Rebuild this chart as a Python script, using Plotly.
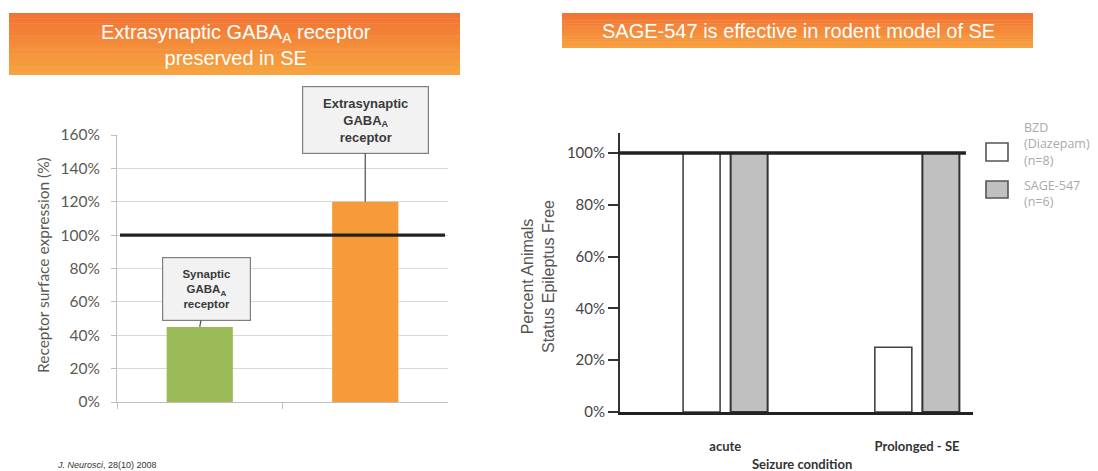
import plotly.graph_objects as go

W, H = 1098, 471
OFF = 8  # page body margin offset of the figure within the window

# ---------------- data ----------------
left_categories = ["Synaptic GABA_A receptor", "Extrasynaptic GABA_A receptor"]
left_values = [45, 120]
left_colors = ["#9BBB59", "#F79A3A"]
left_tick_values = [0, 20, 40, 60, 80, 100, 120, 140, 160]
left_tick_labels = ["0%", "20%", "40%", "60%", "80%", "100%", "120%", "140%", "160%"]
left_box_texts = ["Synaptic<br>GABA<sub>A</sub><br>receptor",
                  "Extrasynaptic<br>GABA<sub>A</sub><br>receptor"]

right_categories = ["acute", "Prolonged - SE"]
bzd_values = [100, 25]
sage_values = [100, 100]
right_tick_values = [0, 20, 40, 60, 80, 100]
right_tick_labels = ["0%", "20%", "40%", "60%", "80%", "100%"]

reference_level = 100


def px(x):
    return (x - OFF) / W


def py(y):
    return 1 - (y - OFF) / H


fig = go.Figure()

# ---------------- left chart ----------------
fig.add_trace(go.Bar(
    x=left_categories, y=left_values, width=0.4,
    marker=dict(color=left_colors, line=dict(width=0)),
    xaxis="x", yaxis="y", showlegend=False, hoverinfo="skip"))

# ---------------- right chart ----------------
fig.add_trace(go.Bar(
    x=right_categories, y=bzd_values, width=0.193, offset=-0.22,
    marker=dict(color="white", line=dict(color="#444444", width=1.6)),
    xaxis="x2", yaxis="y2", showlegend=False, name="BZD (Diazepam) (n=8)"))
fig.add_trace(go.Bar(
    x=right_categories, y=sage_values, width=0.193, offset=0.028,
    marker=dict(color="#C0C0C0", line=dict(color="#333333", width=2)),
    xaxis="x2", yaxis="y2", showlegend=False, name="SAGE-547 (n=6)"))

shapes = []
annotations = []


def gradient_bar(x0, x1, y0, y1, c_top, c_bot, n=24):
    for i in range(n):
        t = i / (n - 1)
        col = "rgb({},{},{})".format(*[int(round(a + (b - a) * t)) for a, b in zip(c_top, c_bot)])
        ya = y0 + (y1 - y0) * i / n
        yb = min(y1, y0 + (y1 - y0) * (i + 1) / n + 0.5)
        shapes.append(dict(type="rect", xref="paper", yref="paper",
                           x0=px(x0), x1=px(x1), y0=py(ya), y1=py(yb),
                           fillcolor=col, line=dict(width=0), layer="below"))


def note(text, x, y, size, color, family="Liberation Sans, Arial, sans-serif",
         xanchor="center", yanchor="middle", align="center", angle=0):
    annotations.append(dict(
        text=text, x=px(x), y=py(y), xref="paper", yref="paper", showarrow=False,
        xanchor=xanchor, yanchor=yanchor, align=align, textangle=angle,
        font=dict(family=family, size=size, color=color)))


# title banners
gradient_bar(9, 460, 13, 75, (241, 116, 52), (247, 163, 64))
gradient_bar(562, 1033, 13, 48, (241, 116, 52), (247, 160, 64))

note("Extrasynaptic GABA<sub>A</sub> receptor<br>preserved in SE", 236, 45, 20, "white")
note("SAGE-547 is effective in rodent model of SE", 798, 31, 20, "white")

# reference lines at 100 %
shapes.append(dict(type="line", xref="x domain", yref="y",
                   x0=0.009, x1=0.991, y0=reference_level, y1=reference_level,
                   line=dict(color="#222222", width=3.2)))
shapes.append(dict(type="line", xref="x2 domain", yref="y2",
                   x0=-0.005, x1=0.980, y0=reference_level, y1=reference_level,
                   line=dict(color="#222222", width=3.6)))

# callout boxes on left bars
box_ax = [7, 0]
box_ay = [-38, -82]
box_w = [83, 121]
box_h = [58, 62]
box_fs = [11.5, 13]
for cat, val, txt, ax, ay, bw, bh, fs in zip(left_categories, left_values, left_box_texts,
                                              box_ax, box_ay, box_w, box_h, box_fs):
    annotations.append(dict(
        x=cat, y=val, xref="x", yref="y", text="<b>" + txt + "</b>",
        showarrow=True, arrowhead=0, arrowwidth=1.3, arrowcolor="#595959",
        ax=ax, ay=ay, width=bw, height=bh, borderpad=2,
        bgcolor="#F2F2F2", bordercolor="#7F7F7F", borderwidth=1.2,
        font=dict(family="Liberation Sans, Arial, sans-serif", size=fs, color="#3A3A3A")))

# axis titles
note("Receptor surface expression (%)", 43, 265, 15.5, "#595959",
     family="Lato, sans-serif", angle=-90)
note("Percent Animals<br>Status Epileptus Free", 538, 277, 16, "#555555", angle=-90)
note("<b>Seizure condition</b>", 802, 464, 13, "#333333", family="Lato, sans-serif")

# legend (manual)
shapes.append(dict(type="rect", xref="paper", yref="paper",
                   x0=px(986), x1=px(1008), y0=py(143), y1=py(161),
                   fillcolor="white", line=dict(color="#555555", width=1.6)))
shapes.append(dict(type="rect", xref="paper", yref="paper",
                   x0=px(986), x1=px(1008), y0=py(181), y1=py(198),
                   fillcolor="#C0C0C0", line=dict(color="#555555", width=1.6)))
note("BZD<br>(Diazepam)<br>(n=8)", 1022, 144, 12.5, "#AAAAAA",
     family="Open Sans, sans-serif", xanchor="left", align="left")
note("SAGE-547<br>(n=6)", 1022, 193, 12.5, "#AAAAAA",
     family="Open Sans, sans-serif", xanchor="left", align="left")

# footnote
note("<i>J. Neurosci</i>, 28(10) 2008", 55, 465, 9, "#333333", xanchor="left")

fig.update_layout(
    width=W, height=H,
    margin=dict(l=0, r=0, t=0, b=0, pad=0, autoexpand=False),
    paper_bgcolor="white", plot_bgcolor="rgba(0,0,0,0)",
    showlegend=False, barmode="overlay",
    shapes=shapes, annotations=annotations,
    xaxis=dict(domain=[px(117), px(448)], anchor="y", type="category",
               range=[-0.5, 1.5], showticklabels=False, automargin=False,
               showline=True, linecolor="#BFBFBF", linewidth=1,
               ticks="outside", tickson="boundaries", ticklen=6, tickcolor="#BFBFBF",
               showgrid=False, zeroline=False, fixedrange=True),
    yaxis=dict(domain=[py(402), py(135)], anchor="x", range=[0, 160], automargin=False,
               tickvals=left_tick_values, ticktext=left_tick_labels,
               showline=True, linecolor="#BFBFBF", linewidth=1,
               ticks="outside", ticklen=5, tickcolor="#BFBFBF",
               showgrid=True, gridcolor="#D9D9D9", gridwidth=1, zeroline=False,
               ticklabelstandoff=8,
               tickfont=dict(family="Lato, sans-serif", size=15.5, color="#595959")),
    xaxis2=dict(domain=[px(620), px(973)], anchor="y2", type="category",
                range=[-0.549, 1.292], automargin=False,
                showline=True, linecolor="#222222", linewidth=3,
                ticks="", showgrid=False, zeroline=False, ticklabelstandoff=20,
                tickfont=dict(family="Lato, sans-serif", size=13, color="#333333",
                              weight="bold")),
    yaxis2=dict(domain=[py(412), py(133)], anchor="x2", range=[0, 107.7], automargin=False,
                tickvals=right_tick_values, ticktext=right_tick_labels,
                showline=True, linecolor="#333333", linewidth=2,
                ticks="outside", ticklen=10, tickwidth=2, tickcolor="#333333",
                showgrid=False, zeroline=False,
                tickfont=dict(family="Lato, sans-serif", size=15, color="#444444")),
)

fig.write_html("out.html")
